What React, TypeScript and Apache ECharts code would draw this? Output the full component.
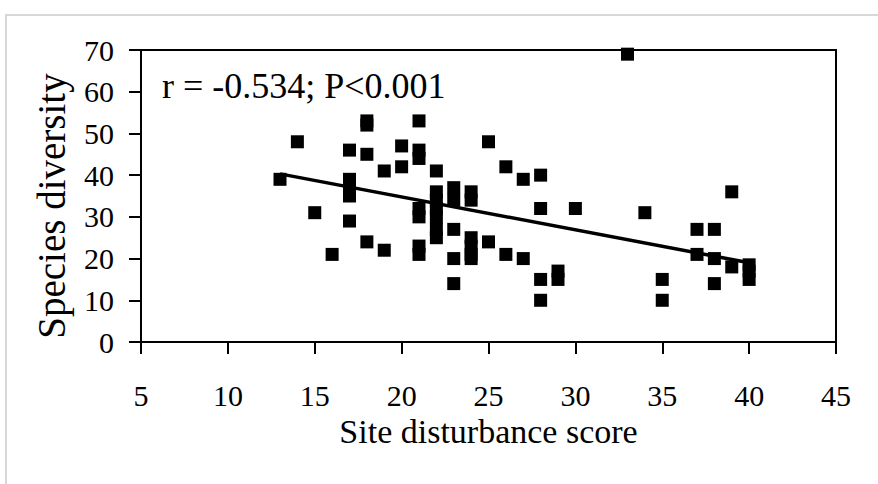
import React, { useEffect, useRef } from "react";
import * as echarts from "echarts";

const xTicks = [5, 45, 5]; // min, max, interval
const yTicks = [0, 70, 10];

const disturbance = [
  13, 14, 15, 16,
  17, 17, 17, 17, 17,
  18, 18, 18, 18,
  19, 19,
  20, 20,
  21, 21, 21, 21, 21, 21, 21,
  22, 22, 22, 22, 22, 22, 22,
  23, 23, 23, 23, 23,
  24, 24, 24, 24, 24, 24,
  25, 25,
  26, 26,
  27, 27,
  28, 28, 28, 28,
  29, 29,
  30,
  33,
  34,
  35, 35,
  37, 37,
  38, 38, 38,
  39, 39,
  40, 40, 40,
];

const diversity = [
  39, 48, 31, 21,
  46, 39, 37, 35, 29,
  53, 52, 45, 24,
  41, 22,
  47, 42,
  53, 46, 44, 32, 30, 23, 21,
  41, 36, 34, 32, 30, 27, 25,
  37, 34, 27, 20, 14,
  36, 34, 25, 23, 21, 20,
  48, 24,
  42, 21,
  39, 20,
  40, 32, 15, 10,
  17, 15,
  32,
  69,
  31,
  15, 10,
  27, 21,
  27, 20, 14,
  36, 18,
  18.5, 17, 15,
];

const trendX = [13, 40];
const trendY = [40.3, 19.0];

const annotation = "r = -0.534; P<0.001";
const xTitle = "Site disturbance score";
const yTitle = "Species diversity";

const FONT = "'Liberation Serif', 'Times New Roman', serif";

export default function App() {
  const ref = useRef<HTMLDivElement>(null);
  useEffect(() => {
    if (!ref.current) return;
    const chart = echarts.init(ref.current, null, { renderer: "svg" });
    const points = disturbance.map((x, i) => [x, diversity[i]]);
    const trend = trendX.map((x, i) => [x, trendY[i]]);
    chart.setOption({
      animation: false,
      backgroundColor: "#ffffff",
      grid: {
        left: 141,
        right: 42,
        top: 50,
        bottom: 142,
        show: true,
        borderColor: "#000",
        borderWidth: 2,
        backgroundColor: "transparent",
      },
      xAxis: {
        type: "value",
        min: xTicks[0],
        max: xTicks[1],
        interval: xTicks[2],
        splitLine: { show: false },
        axisLine: { show: true, lineStyle: { color: "#000", width: 2 } },
        axisTick: { show: true, inside: false, length: 12, lineStyle: { color: "#000", width: 2 } },
        axisLabel: { color: "#000", fontSize: 30, fontFamily: FONT, margin: 38 },
        name: xTitle,
        nameLocation: "middle",
        nameGap: 70,
        nameTextStyle: { color: "#000", fontSize: 34, fontFamily: FONT },
      },
      yAxis: {
        type: "value",
        min: yTicks[0],
        max: yTicks[1],
        interval: yTicks[2],
        splitLine: { show: false },
        axisLine: { show: true, lineStyle: { color: "#000", width: 2 } },
        axisTick: { show: true, inside: false, length: 12, lineStyle: { color: "#000", width: 2 } },
        axisLabel: { color: "#000", fontSize: 30, fontFamily: FONT, margin: 27 },
        name: yTitle,
        nameLocation: "middle",
        nameGap: 70,
        nameTextStyle: { color: "#000", fontSize: 39, fontFamily: FONT, padding: [0, 20, 0, 0] },
      },
      graphic: [
        {
          type: "rect",
          shape: { x: 6, y: 15, width: 900, height: 500 },
          style: { fill: "none", stroke: "#cccccc", lineWidth: 1.5 },
          silent: true,
        },
        {
          type: "text",
          x: 162,
          y: 86,
          style: {
            text: annotation,
            fontSize: 36,
            fontFamily: FONT,
            fill: "#000",
            verticalAlign: "middle",
          },
        },
      ],
      series: [
        {
          type: "line",
          data: trend,
          symbol: "none",
          lineStyle: { color: "#000", width: 3.5 },
          z: 3,
        },
        {
          type: "scatter",
          data: points,
          symbol: "rect",
          symbolSize: 13,
          itemStyle: { color: "#000", opacity: 1 },
          clip: false,
          z: 4,
        },
      ],
    });
    return () => chart.dispose();
  }, []);
  return (
    <div
      ref={ref}
      style={{ position: "absolute", left: 0, top: 0, width: 878, height: 484 }}
    />
  );
}
